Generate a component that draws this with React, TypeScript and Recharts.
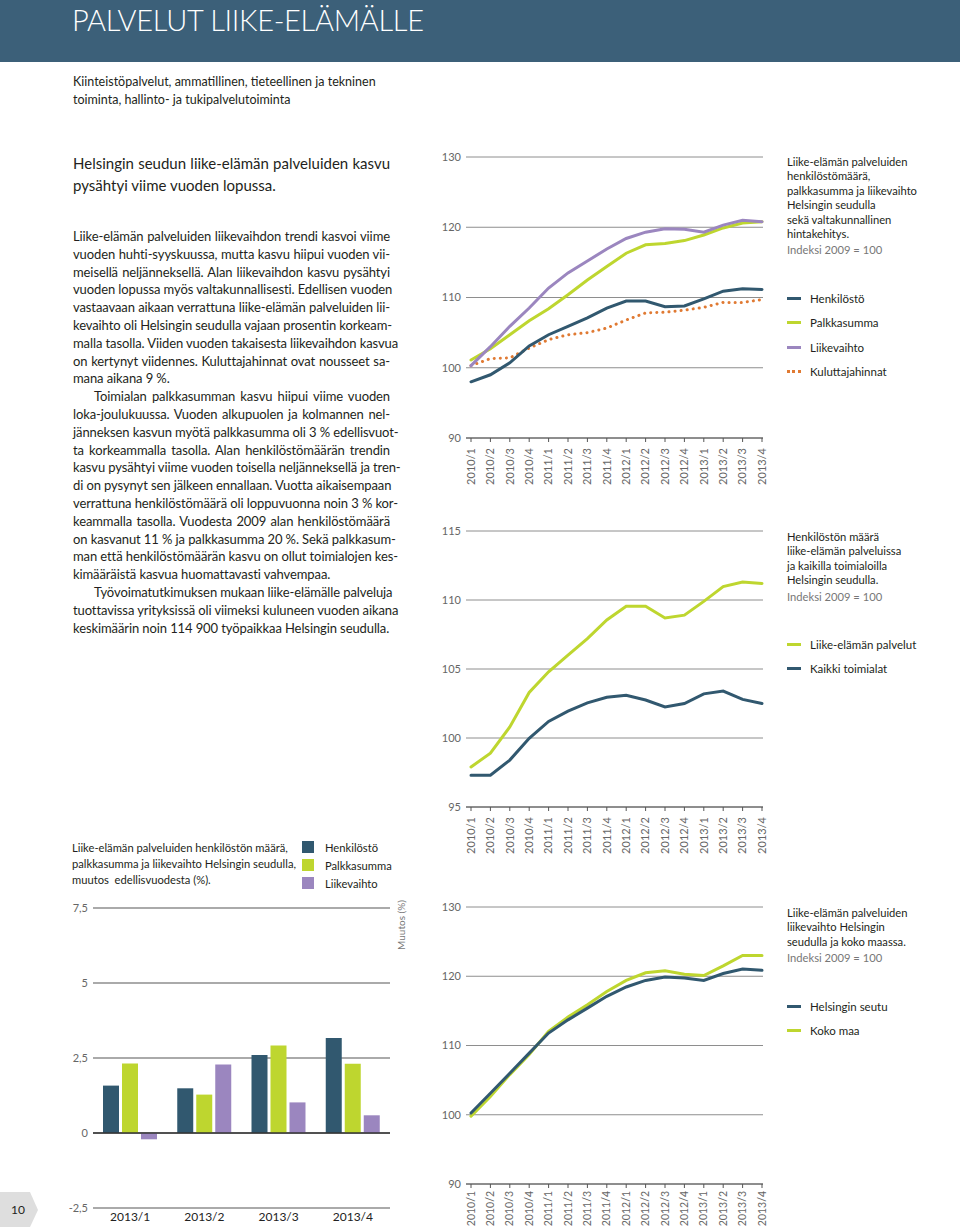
import React from "react";
import { Bar, BarChart, CartesianGrid, Line, LineChart, ReferenceLine, XAxis, YAxis } from "recharts";

const NAVY = "#31586f";
const GREEN = "#bed62f";
const PURPLE = "#9b86bf";
const ORANGE = "#e07a33";
const GRID = "#8e8e8e";
const TEXT = "#231f20";
const FONT = "Lato, 'Open Sans', sans-serif";

const quarters = [
  "2010/1", "2010/2", "2010/3", "2010/4", "2011/1", "2011/2", "2011/3", "2011/4",
  "2012/1", "2012/2", "2012/3", "2012/4", "2013/1", "2013/2", "2013/3", "2013/4",
];

// chart 1: index 2009 = 100
const henkilosto = [98.0, 99.0, 100.7, 103.1, 104.7, 105.9, 107.1, 108.5, 109.5, 109.5, 108.7, 108.8, 109.8, 110.9, 111.25, 111.15];
const palkkasumma = [101.1, 102.7, 104.7, 106.7, 108.4, 110.4, 112.5, 114.4, 116.3, 117.5, 117.7, 118.1, 118.9, 119.9, 120.6, 120.8];
const liikevaihto = [100.3, 103.0, 105.9, 108.5, 111.35, 113.5, 115.2, 116.9, 118.4, 119.3, 119.8, 119.7, 119.3, 120.3, 121.0, 120.8];
const kuluttajahinnat = [100.3, 101.3, 101.4, 102.8, 104.0, 104.7, 105.0, 105.65, 106.8, 107.8, 107.9, 108.2, 108.6, 109.3, 109.3, 109.7];

// chart 2: henkilöstön määrä
const liikeElamanPalvelut = [97.9, 98.9, 100.8, 103.3, 104.8, 106.0, 107.2, 108.55, 109.55, 109.55, 108.7, 108.9, 109.9, 110.97, 111.3, 111.2];
const kaikkiToimialat = [97.3, 97.3, 98.4, 99.98, 101.2, 101.95, 102.55, 102.95, 103.1, 102.75, 102.25, 102.5, 103.2, 103.4, 102.8, 102.5];

// chart 3: liikevaihto
const helsinginSeutu = [100.25, 103.1, 106.0, 108.9, 111.8, 113.7, 115.4, 117.1, 118.45, 119.4, 119.9, 119.75, 119.4, 120.4, 121.05, 120.85];
const kokoMaa = [99.8, 102.65, 105.8, 108.7, 112.05, 114.1, 115.9, 117.8, 119.4, 120.5, 120.8, 120.3, 120.1, 121.5, 123.0, 123.0];

// bar chart: muutos edellisvuodesta (%)
const barQuarters = ["2013/1", "2013/2", "2013/3", "2013/4"];
const barHenkilosto = [1.58, 1.49, 2.6, 3.17];
const barPalkkasumma = [2.32, 1.28, 2.92, 2.31];
const barLiikevaihto = [-0.21, 2.28, 1.02, 0.59];
const barTicks = [-2.5, 0, 2.5, 5, 7.5];

const para1 = [
  "Liike-elämän palveluiden liikevaihdon trendi kasvoi viime",
  "vuoden huhti-syyskuussa, mutta kasvu hiipui vuoden vii-",
  "meisellä neljänneksellä. Alan liikevaihdon kasvu pysähtyi",
  "vuoden lopussa myös valtakunnallisesti. Edellisen vuoden",
  "vastaavaan aikaan verrattuna liike-elämän palveluiden lii-",
  "kevaihto oli Helsingin seudulla vajaan prosentin korkeam-",
  "malla tasolla. Viiden vuoden takaisesta liikevaihdon kasvua",
  "on kertynyt viidennes. Kuluttajahinnat ovat nousseet sa-",
  "mana aikana 9 %.",
];
const para2 = [
  "Toimialan palkkasumman kasvu hiipui viime vuoden",
  "loka-joulukuussa. Vuoden alkupuolen ja kolmannen nel-",
  "jänneksen kasvun myötä palkkasumma oli 3 % edellisvuot-",
  "ta korkeammalla tasolla. Alan henkilöstömäärän trendin",
  "kasvu pysähtyi viime vuoden toisella neljänneksellä ja tren-",
  "di on pysynyt sen jälkeen ennallaan. Vuotta aikaisempaan",
  "verrattuna henkilöstömäärä oli loppuvuonna noin 3 % kor-",
  "keammalla tasolla. Vuodesta 2009 alan henkilöstömäärä",
  "on kasvanut 11 % ja palkkasumma 20 %. Sekä palkkasum-",
  "man että henkilöstömäärän kasvu on ollut toimialojen kes-",
  "kimääräistä kasvua huomattavasti vahvempaa.",
];
const para3 = [
  "Työvoimatutkimuksen mukaan liike-elämälle palveluja",
  "tuottavissa yrityksissä oli viimeksi kuluneen vuoden aikana",
  "keskimäärin noin 114 900 työpaikkaa Helsingin seudulla.",
];

function Para({ lines, indent }: { lines: string[]; indent?: boolean }) {
  return (
    <>
      {lines.map((l, i) => {
        const last = i === lines.length - 1;
        return (
          <div
            key={i}
            style={{
              textAlign: last ? "left" : "justify",
              textAlignLast: last ? "left" : "justify",
              paddingLeft: indent && i === 0 ? 21 : 0,
              whiteSpace: "nowrap",
            }}
          >
            {l}
          </div>
        );
      })}
    </>
  );
}

const RotTick = (props: any) => {
  const { x, y, payload, fs = 11, shift = -4 } = props;
  return (
    <text x={x} y={y} dx={shift} dy="0.35em" transform={`rotate(-90 ${x} ${y})`} textAnchor="end" fontSize={fs} fill="#666" fontFamily={FONT}>
      {payload.value}
    </text>
  );
};

type S = { values: number[]; color: string; dotted?: boolean };

function IndexChart({ top, height, mt, xh, domain, ticks, series, fs = 11, shift = -4 }: { top: number; height: number; mt: number; xh: number; domain: [number, number]; ticks: number[]; series: S[]; fs?: number; shift?: number }) {
  const data = quarters.map((q, i) => {
    const row: any = { q };
    series.forEach((s, k) => (row["s" + k] = s.values[i]));
    return row;
  });
  return (
    <div style={{ position: "absolute", left: 440, top }}>
      <LineChart width={340} height={height} data={data} margin={{ top: mt, right: 17, bottom: 0, left: 0 }}>
        <CartesianGrid vertical={false} stroke={GRID} strokeWidth={1} />
        <XAxis
          dataKey="q"
          interval={0}
          height={xh}
          padding={{ left: 5, right: 1 }}
          tick={<RotTick fs={fs} shift={shift} />}
          tickSize={4}
          tickMargin={2}
          axisLine={{ stroke: "#555" }}
          tickLine={{ stroke: "#555" }}
        />
        <YAxis
          domain={domain}
          ticks={ticks}
          width={26}
          tickSize={3}
          tickMargin={2}
          axisLine={false}
          tickLine={false}
          tick={{ fontSize: 11, fill: "#666", fontFamily: FONT }}
        />
        {series.map((s, k) => (
          <Line
            key={k}
            dataKey={"s" + k}
            type="linear"
            stroke={s.color}
            strokeWidth={3}
            strokeDasharray={s.dotted ? "0.1 6" : undefined}
            strokeLinecap="round"
            dot={false}
            isAnimationActive={false}
          />
        ))}
      </LineChart>
    </div>
  );
}

function LineKey({ x, y, color, label, dotted }: { x: number; y: number; color: string; label: string; dotted?: boolean }) {
  return (
    <div style={{ position: "absolute", left: x, top: y - 8, height: 16, display: "flex", alignItems: "center", fontSize: 11.5, color: TEXT }}>
      <span
        style={{
          display: "inline-block",
          width: 14,
          height: 0,
          borderTop: dotted ? `3px dotted ${color}` : `3px solid ${color}`,
          marginRight: 9,
        }}
      />
      {label}
    </div>
  );
}

function Caption({ x, y, lines, index }: { x: number; y: number; lines: string[]; index: string }) {
  return (
    <div style={{ position: "absolute", left: x, top: y, fontSize: 11.2, lineHeight: "14.4px", color: TEXT }}>
      {lines.map((l, i) => (
        <div key={i}>{l}</div>
      ))}
      <div style={{ color: "#777", marginTop: 2 }}>{index}</div>
    </div>
  );
}

export default function App() {
  const barData = barQuarters.map((q, i) => ({ q, h: barHenkilosto[i], p: barPalkkasumma[i], l: barLiikevaihto[i] }));
  return (
    <div style={{ position: "absolute", left: 0, top: 0, width: 960, height: 1227, background: "#fff", fontFamily: FONT, color: TEXT, overflow: "hidden" }}>
      <div style={{ position: "absolute", left: 0, top: 0, width: 960, height: 62, background: "#3c6079" }} />
      <div style={{ position: "absolute", left: 72, top: 2, fontSize: 29, fontWeight: 300, color: "#fff", letterSpacing: -0.3 }}>
        PALVELUT LIIKE-ELÄMÄLLE
      </div>
      <div style={{ position: "absolute", left: 73, top: 73, fontSize: 12.5, lineHeight: "18px", fontFamily: "'Liberation Sans Narrow', Lato, sans-serif" }}>
        <div>Kiinteistöpalvelut, ammatillinen, tieteellinen ja tekninen</div>
        <div>toiminta, hallinto- ja tukipalvelutoiminta</div>
      </div>

      <div style={{ position: "absolute", left: 73, top: 152, width: 317, fontSize: 15, lineHeight: "22px" }}>
        <Para lines={["Helsingin seudun liike-elämän palveluiden kasvu", "pysähtyi viime vuoden lopussa."]} />
      </div>
      <div style={{ position: "absolute", left: 73, top: 228, width: 317, fontSize: 13, lineHeight: "17.8px", letterSpacing: -0.1 }}>
        <Para lines={para1} />
        <Para lines={para2} indent />
        <Para lines={para3} indent />
      </div>

      <IndexChart
        top={140}
        height={360}
        mt={17}
        xh={62}
        domain={[90, 130]}
        ticks={[90, 100, 110, 120, 130]}
        series={[
          { values: kuluttajahinnat, color: ORANGE, dotted: true },
          { values: henkilosto, color: NAVY },
          { values: palkkasumma, color: GREEN },
          { values: liikevaihto, color: PURPLE },
        ]}
      />
      <Caption
        x={787}
        y={155}
        lines={["Liike-elämän palveluiden", "henkilöstömäärä,", "palkkasumma ja liikevaihto", "Helsingin seudulla", "sekä valtakunnallinen", "hintakehitys."]}
        index="Indeksi 2009 = 100"
      />
      <LineKey x={787} y={298} color={NAVY} label="Henkilöstö" />
      <LineKey x={787} y={322} color={GREEN} label="Palkkasumma" />
      <LineKey x={787} y={347} color={PURPLE} label="Liikevaihto" />
      <LineKey x={787} y={371} color={ORANGE} label="Kuluttajahinnat" dotted />

      <IndexChart
        top={520}
        height={347}
        mt={11}
        xh={60}
        domain={[95, 115]}
        ticks={[95, 100, 105, 110, 115]}
        series={[
          { values: kaikkiToimialat, color: NAVY },
          { values: liikeElamanPalvelut, color: GREEN },
        ]}
      />
      <Caption
        x={787}
        y={530}
        lines={["Henkilöstön määrä", "liike-elämän palveluissa", "ja kaikilla toimialoilla", "Helsingin seudulla."]}
        index="Indeksi 2009 = 100"
      />
      <LineKey x={787} y={644} color={GREEN} label="Liike-elämän palvelut" />
      <LineKey x={787} y={668} color={NAVY} label="Kaikki toimialat" />

      <IndexChart
        top={890}
        height={337}
        mt={17}
        xh={43}
        domain={[90, 130]}
        ticks={[90, 100, 110, 120, 130]}
        fs={10.5}
        shift={-1}
        series={[
          { values: kokoMaa, color: GREEN },
          { values: helsinginSeutu, color: NAVY },
        ]}
      />
      <Caption
        x={787}
        y={906}
        lines={["Liike-elämän palveluiden", "liikevaihto Helsingin", "seudulla ja koko maassa."]}
        index="Indeksi 2009 = 100"
      />
      <LineKey x={787} y={1006} color={NAVY} label="Helsingin seutu" />
      <LineKey x={787} y={1030} color={GREEN} label="Koko maa" />

      {/* bar chart */}
      <div style={{ position: "absolute", left: 72, top: 840, fontSize: 11.2, lineHeight: "16px" }}>
        <div>Liike-elämän palveluiden henkilöstön määrä,</div>
        <div>palkkasumma ja liikevaihto Helsingin seudulla,</div>
        <div>muutos&nbsp; edellisvuodesta (%).</div>
      </div>
      {[
        { c: NAVY, l: "Henkilöstö", y: 847 },
        { c: GREEN, l: "Palkkasumma", y: 865 },
        { c: PURPLE, l: "Liikevaihto", y: 883 },
      ].map((k) => (
        <div key={k.l} style={{ position: "absolute", left: 302, top: k.y - 8, height: 16, display: "flex", alignItems: "center", fontSize: 11.2 }}>
          <span style={{ display: "inline-block", width: 12, height: 12, background: k.c, marginRight: 11 }} />
          {k.l}
        </div>
      ))}
      <div style={{ position: "absolute", left: 60, top: 895 }}>
        <BarChart width={340} height={333} data={barData} margin={{ top: 13, right: 10, bottom: 0, left: 0 }} barSize={16} barGap={3}>
          <CartesianGrid vertical={false} stroke={GRID} strokeWidth={1.5} />
          <XAxis dataKey="q" height={20} axisLine={false} tickLine={false} tickSize={0} tickMargin={4} tick={{ fontSize: 12, fill: "#222", fontFamily: FONT }} />
          <YAxis
            domain={[-2.5, 7.5]}
            ticks={barTicks}
            width={33}
            tickSize={3}
            tickMargin={2}
            axisLine={false}
            tickLine={false}
            tickFormatter={(v: number) => String(v).replace(".", ",")}
            tick={{ fontSize: 11, fill: "#666", fontFamily: FONT }}
          />
          <ReferenceLine y={0} stroke="#333" strokeWidth={1.5} />
          <Bar dataKey="h" fill={NAVY} isAnimationActive={false} />
          <Bar dataKey="p" fill={GREEN} isAnimationActive={false} />
          <Bar dataKey="l" fill={PURPLE} isAnimationActive={false} />
        </BarChart>
      </div>
      <div
        style={{
          position: "absolute",
          left: 371,
          top: 919,
          width: 60,
          textAlign: "center",
          whiteSpace: "nowrap",
          fontSize: 10,
          lineHeight: "12px",
          color: "#777",
          transform: "rotate(-90deg)",
        }}
      >
        Muutos (%)
      </div>

      <div
        style={{
          position: "absolute",
          left: 0,
          top: 1192,
          width: 38,
          height: 35,
          background: "#dedede",
          clipPath: "polygon(0 0, 30px 0, 38px 18px, 30px 35px, 0 35px)",
          display: "flex",
          alignItems: "center",
          paddingLeft: 11,
          boxSizing: "border-box",
          fontSize: 12,
        }}
      >
        10
      </div>
    </div>
  );
}
